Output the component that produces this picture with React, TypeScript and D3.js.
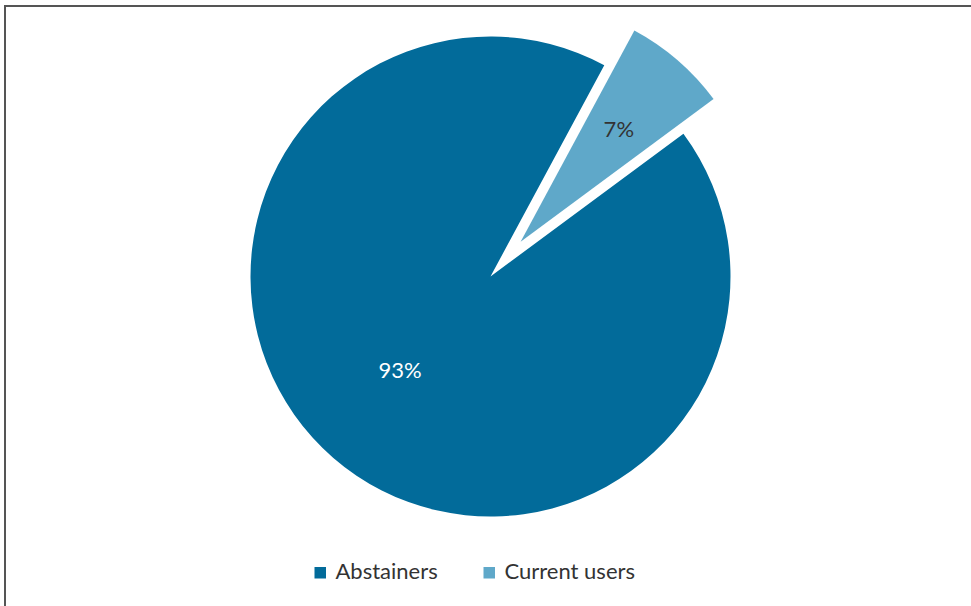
import React from "react";
import * as d3 from "d3";

const categories = ["Abstainers", "Current users"];
const values = [93, 7];
const labels = ["93%", "7%"];
const colors = ["#026b9a", "#5fa8c9"];
const labelColors = ["#ffffff", "#333333"];

const W = 971;
const H = 606;

export default function App() {
  const cx = 490.5;
  const cy = 276.5;
  const r = 240;
  const startDeg = 53.5;
  const pie = d3
    .pie<number>()
    .sort(null)
    .value((d) => d)
    .startAngle((startDeg * Math.PI) / 180)
    .endAngle((startDeg * Math.PI) / 180 + 2 * Math.PI);
  const arcs = pie(values);
  const arc = d3.arc<d3.PieArcDatum<number>>().innerRadius(0).outerRadius(r);
  const explode = [0, 46];
  const labelFrac = [0.542, 0.625];
  const labelRot = [0.056, 0];

  const font = "Lato, 'Open Sans', sans-serif";

  return (
    <svg
      width={W}
      height={H}
      style={{ position: "absolute", left: 0, top: 0, background: "#fff" }}
    >
      <rect x={0} y={0} width={W} height={H} fill="#fff" />
      <line x1={4} y1={6} x2={W} y2={6} stroke="#555" strokeWidth={2} />
      <line x1={5} y1={5} x2={5} y2={H} stroke="#555" strokeWidth={2} />
      {arcs.map((a, i) => {
        const mid = (a.startAngle + a.endAngle) / 2;
        const dx = Math.sin(mid) * explode[i];
        const dy = -Math.cos(mid) * explode[i];
        const lr = r * labelFrac[i];
        const la = mid + labelRot[i];
        const lx = Math.sin(la) * lr;
        const ly = -Math.cos(la) * lr;
        return (
          <g key={categories[i]} transform={`translate(${cx + dx},${cy + dy})`}>
            <path d={arc(a) || ""} fill={colors[i]} />
            <text
              x={lx}
              y={ly}
              textAnchor="middle"
              dominantBaseline="central"
              fontFamily={font}
              fontSize={22}
              fill={labelColors[i]}
            >
              {labels[i]}
            </text>
          </g>
        );
      })}
      {categories.map((c, i) => {
        const xs = [314.5, 483.5];
        return (
          <g key={c}>
            <rect x={xs[i]} y={567} width={11.5} height={11.5} fill={colors[i]} />
            <text
              x={xs[i] + 21}
              y={579}
              fontFamily={font}
              fontSize={22}
              fill="#333"
            >
              {c}
            </text>
          </g>
        );
      })}
    </svg>
  );
}
